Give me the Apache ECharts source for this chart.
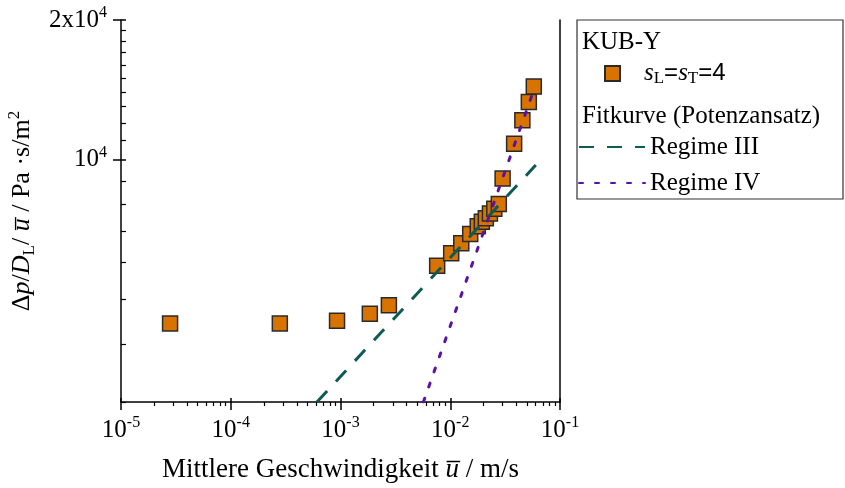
<html>
<head><meta charset="utf-8"></head>
<body style="margin:0;background:#fff">
<div id="main" style="width:845px;height:488px;"></div>
<script src="https://cdn.jsdelivr.net/npm/echarts@6/dist/echarts.min.js"></script>
<script>
// Messwerte KUB-Y, sL=sT=4
var speed = [2.8e-5, 2.8e-4, 9.3e-4, 1.85e-3, 2.76e-3, 7.6e-3, 1.02e-2, 1.26e-2, 1.52e-2, 1.78e-2,
             1.94e-2, 2.11e-2, 2.30e-2, 2.52e-2, 2.77e-2, 3.0e-2, 3.82e-2, 4.54e-2, 5.2e-2, 5.77e-2];
var dpdl = [4430, 4430, 4490, 4650, 4850, 5900, 6280, 6600, 6910, 7180,
            7340, 7470, 7650, 7830, 8020, 9100, 10820, 12160, 13310, 14380];
// Fitkurven (Endpunkte)
var reg3X = [6.1e-4, 6.02e-2];
var reg3Y = [3000, 9730];
var reg4X = [5.69e-3, 5.96e-2];
var reg4Y = [3000, 14430];
// Achsen
var xDecades = [-5, -4, -3, -2, -1];
var yLabelVals = [10000, 20000];
var yMin = 3000, yMax = 20000;

var serif = "'Liberation Serif','Times New Roman',serif";
var lg = Math.log10;

function pairs(xs, ys) {
    var out = [];
    for (var i = 0; i < xs.length; i++) out.push([lg(xs[i]), lg(ys[i])]);
    return out;
}
var xMinor = [];
for (var k = -5; k < -1; k++) for (var m = 2; m <= 9; m++) xMinor.push(k + lg(m));
var yMinor = [];
for (var v = 3000; v < 20000; v += 1000) if (v != 10000) yMinor.push(lg(v));
var yMajor = yLabelVals.map(lg);

var richLab = {
    b: {fontFamily: serif, fontSize: 25, color: '#000', lineHeight: 30},
    s: {fontFamily: serif, fontSize: 16, color: '#000', lineHeight: 16, verticalAlign: 'top'}
};

var myChart = echarts.init(document.getElementById('main'));
var option = {
    animation: false,
    grid: {left: 121, right: 285, top: 20, bottom: 86, containLabel: false, outerBoundsMode: 'none'},
    xAxis: [{
        type: 'value', min: -5, max: -1, interval: 1,
        axisLine: {lineStyle: {color: '#000', width: 1.5}},
        axisTick: {length: 8, lineStyle: {color: '#000', width: 1.5}},
        splitLine: {show: false},
        axisLabel: {margin: 13, formatter: function (v) {
            return '{b|10}{s|' + Math.round(v) + '}';
        }, rich: richLab},
        name: 'Mittlere Geschwindigkeit {i|u\u0305} / m/s',
        nameLocation: 'middle', nameGap: 54,
        nameTextStyle: {fontFamily: serif, fontSize: 27, color: '#000',
            rich: {i: {fontFamily: serif, fontSize: 27, fontStyle: 'italic', color: '#000'}}}
    }, {
        type: 'value', min: -5, max: -1, position: 'bottom',
        axisLine: {show: false}, splitLine: {show: false}, axisLabel: {show: false},
        axisTick: {length: 4, customValues: xMinor, lineStyle: {color: '#000', width: 1.2}}
    }, {
        type: 'value', min: -5, max: -1, position: 'bottom',
        axisLine: {show: false}, splitLine: {show: false}, axisLabel: {show: false},
        axisTick: {inside: true, length: 4, customValues: xDecades, lineStyle: {color: '#000', width: 1.5}}
    }],
    yAxis: [{
        type: 'value', min: lg(yMin), max: lg(yMax), position: 'left',
        axisLine: {lineStyle: {color: '#000', width: 1.5}},
        axisTick: {length: 8, customValues: yMajor, lineStyle: {color: '#000', width: 1.5}},
        splitLine: {show: false},
        axisLabel: {margin: 14, customValues: yMajor, formatter: function (v) {
            return Math.abs(v - 4) < 1e-6 ? '{b|10}{s|4}' : '{b|2x10}{s|4}';
        }, rich: richLab},
        name: '{n|\u0394}{i|p}{n|/}{i|D}{sub|L}{n|/ }{i|u\u0305}{n| / Pa \u00b7s/m}{sup|2}',
        nameLocation: 'middle', nameGap: 82,
        nameTextStyle: {rich: {
            n: {fontFamily: serif, fontSize: 26, color: '#000', lineHeight: 32},
            i: {fontFamily: serif, fontSize: 26, fontStyle: 'italic', color: '#000', lineHeight: 32},
            sub: {fontFamily: serif, fontSize: 17, color: '#000', lineHeight: 17, verticalAlign: 'bottom'},
            sup: {fontFamily: serif, fontSize: 17, color: '#000', lineHeight: 17, verticalAlign: 'top'}
        }}
    }, {
        type: 'value', min: lg(yMin), max: lg(yMax), position: 'left',
        axisLine: {show: false}, splitLine: {show: false}, axisLabel: {show: false},
        axisTick: {inside: true, length: 5, customValues: yMinor, lineStyle: {color: '#000', width: 1.2}}
    }, {
        type: 'value', min: lg(yMin), max: lg(yMax), position: 'left',
        axisLine: {show: false}, splitLine: {show: false}, axisLabel: {show: false},
        axisTick: {inside: true, length: 5, customValues: yMajor, lineStyle: {color: '#000', width: 1.5}}
    }, {
        type: 'value', min: lg(yMin), max: lg(yMax), position: 'right',
        axisLine: {show: true, lineStyle: {color: '#000', width: 1.5}},
        axisTick: {show: false}, axisLabel: {show: false}, splitLine: {show: false}
    }],
    legend: [{
        data: ['sL=sT=4'], left: 604, top: 61, padding: 0, itemWidth: 15, itemHeight: 15,
        selectedMode: false,
        formatter: function () {
            return '{g|}{i|s}{sub|L}{e|=}{i|s}{sub|T}{e|=4}';
        },
        textStyle: {rich: {
            g: {width: 19},
            i: {fontFamily: serif, fontSize: 25, fontStyle: 'italic', color: '#000', lineHeight: 28},
            e: {fontFamily: "'Liberation Sans',Arial,sans-serif", fontSize: 24, color: '#000', lineHeight: 28},
            sub: {fontFamily: serif, fontSize: 17, color: '#000', lineHeight: 17, verticalAlign: 'bottom'}
        }}
    }, {
        data: ['Regime III', 'Regime IV'], orient: 'vertical', left: 578, top: 133, padding: 0,
        itemWidth: 66, itemHeight: 14, itemGap: 8, selectedMode: false,
        itemStyle: {opacity: 0},
        textStyle: {fontFamily: serif, fontSize: 25, color: '#000', lineHeight: 28}
    }],
    graphic: [
        {type: 'rect', shape: {x: 577, y: 20, width: 266, height: 179},
         style: {fill: 'none', stroke: '#333', lineWidth: 1.2}},
        {type: 'text', style: {x: 582, y: 42, text: 'KUB-Y', font: '25px ' + serif,
         fill: '#000', verticalAlign: 'middle'}},
        {type: 'text', style: {x: 582, y: 116, text: 'Fitkurve (Potenzansatz)', font: '25px ' + serif,
         fill: '#000', verticalAlign: 'middle'}}
    ],
    series: [{
        name: 'sL=sT=4', type: 'scatter', symbol: 'rect', symbolSize: 15,
        data: pairs(speed, dpdl),
        itemStyle: {color: '#D97300', borderColor: '#2a2a2a', borderWidth: 1.5, opacity: 1}
    }, {
        name: 'Regime III', type: 'line', symbol: 'none', showSymbol: false,
        data: pairs(reg3X, reg3Y),
        itemStyle: {color: '#0E5A54'},
        lineStyle: {color: '#0E5A54', width: 3, type: [15, 13]}
    }, {
        name: 'Regime IV', type: 'line', symbol: 'none', showSymbol: false,
        data: pairs(reg4X, reg4Y),
        itemStyle: {color: '#5A12A6'},
        lineStyle: {color: '#5A12A6', width: 3, type: [4, 12], cap: 'round'}
    }]
};
myChart.setOption(option);
window.onresize = myChart.resize;
</script>
</body>
</html>
